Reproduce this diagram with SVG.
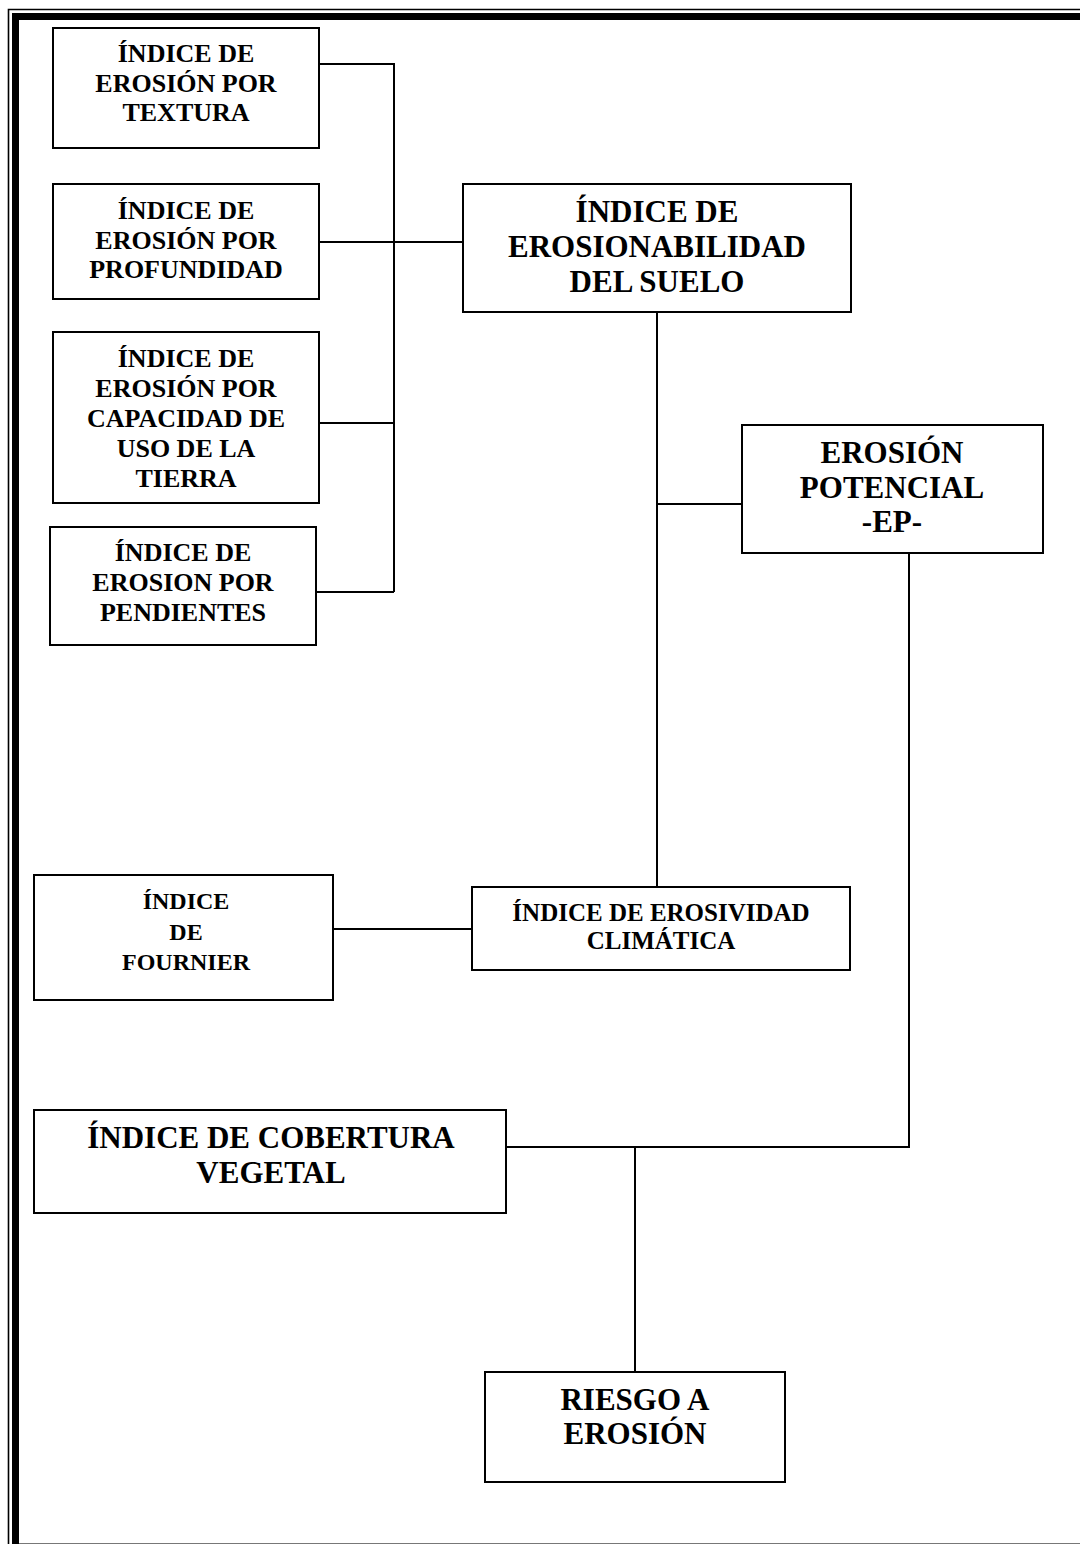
<svg xmlns="http://www.w3.org/2000/svg" width="1080" height="1544" viewBox="0 0 1080 1544">
<style>
.box{fill:#fff;stroke:#000;stroke-width:2}
.wire{fill:none;stroke:#000;stroke-width:2}
.t{font-family:"Liberation Serif","Times New Roman",serif;font-weight:bold;text-anchor:middle;fill:#000}
.s{font-size:26px}
.b{font-size:31px}
.c{font-size:24px}
.e{font-size:25px}
</style>
<rect x="0" y="0" width="1080" height="1544" fill="#fff"/>
<g id="frame" fill="none">
<path d="M8.5,1544 V9.5 H1080" stroke="#000" stroke-width="1.6"/>
<path d="M15.5,1544 V16.5 H1080" stroke="#000" stroke-width="7"/>
<path d="M19,1543.5 H1080" stroke="#777" stroke-width="1"/>
</g>
<g id="connectors" class="wire">
<path d="M320,64 H394 V592"/>
<path d="M320,242 H462"/>
<path d="M320,423 H394"/>
<path d="M317,592 H394"/>
<path d="M657,312 V887"/>
<path d="M657,504 H742"/>
<path d="M909,553 V1147 H507"/>
<path d="M635,1147 V1372"/>
<path d="M333,929 H472"/>
</g>
<g id="n_textura">
<rect class="box" x="53" y="28" width="266" height="120"/>
<text class="t s" x="186" y="62">ÍNDICE DE</text>
<text class="t s" x="186" y="92">EROSIÓN POR</text>
<text class="t s" x="186" y="121">TEXTURA</text>
</g>
<g id="n_profundidad">
<rect class="box" x="53" y="184" width="266" height="115"/>
<text class="t s" x="186" y="219">ÍNDICE DE</text>
<text class="t s" x="186" y="249">EROSIÓN POR</text>
<text class="t s" x="186" y="278">PROFUNDIDAD</text>
</g>
<g id="n_capacidad">
<rect class="box" x="53" y="332" width="266" height="171"/>
<text class="t s" x="186" y="367">ÍNDICE DE</text>
<text class="t s" x="186" y="397">EROSIÓN POR</text>
<text class="t s" x="186" y="427">CAPACIDAD DE</text>
<text class="t s" x="186" y="457">USO DE LA</text>
<text class="t s" x="186" y="487">TIERRA</text>
</g>
<g id="n_pendientes">
<rect class="box" x="50" y="527" width="266" height="118"/>
<text class="t s" x="183" y="561">ÍNDICE DE</text>
<text class="t s" x="183" y="591">EROSION POR</text>
<text class="t s" x="183" y="621">PENDIENTES</text>
</g>
<g id="n_erosionabilidad">
<rect class="box" x="463" y="184" width="388" height="128"/>
<text class="t b" x="657" y="222">ÍNDICE DE</text>
<text class="t b" x="657" y="257">EROSIONABILIDAD</text>
<text class="t b" x="657" y="292">DEL SUELO</text>
</g>
<g id="n_potencial">
<rect class="box" x="742" y="425" width="301" height="128"/>
<text class="t b" x="892" y="463">EROSIÓN</text>
<text class="t b" x="892" y="498">POTENCIAL</text>
<text class="t b" x="892" y="532">-EP-</text>
</g>
<g id="n_fournier">
<rect class="box" x="34" y="875" width="299" height="125"/>
<text class="t c" x="186" y="909">ÍNDICE</text>
<text class="t c" x="186" y="940">DE</text>
<text class="t c" x="186" y="970">FOURNIER</text>
</g>
<g id="n_erosividad">
<rect class="box" x="472" y="887" width="378" height="83"/>
<text class="t e" x="661" y="921">ÍNDICE DE EROSIVIDAD</text>
<text class="t e" x="661" y="949">CLIMÁTICA</text>
</g>
<g id="n_cobertura">
<rect class="box" x="34" y="1110" width="472" height="103"/>
<text class="t b" x="271" y="1148">ÍNDICE DE COBERTURA</text>
<text class="t b" x="271" y="1183">VEGETAL</text>
</g>
<g id="n_riesgo">
<rect class="box" x="485" y="1372" width="300" height="110"/>
<text class="t b" x="635" y="1410">RIESGO A</text>
<text class="t b" x="635" y="1444">EROSIÓN</text>
</g>
</svg>
